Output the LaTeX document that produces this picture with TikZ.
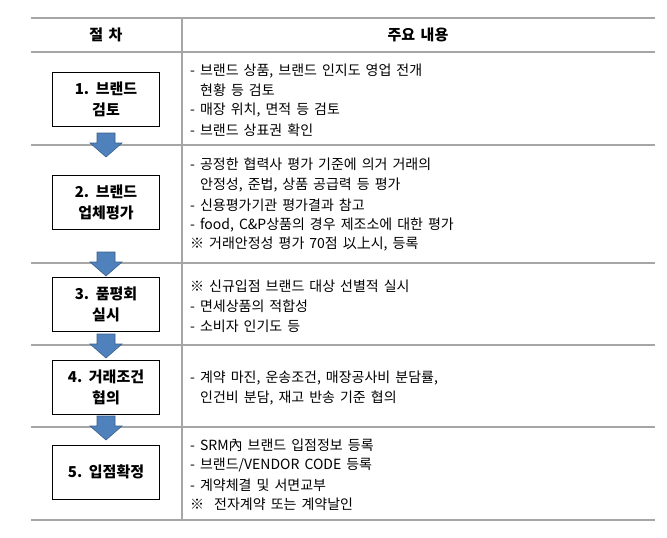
\documentclass[tikz,border=0pt]{standalone}
\usepackage{fontspec}
\setmainfont[WordSpace=1.6]{Noto Sans CJK KR}
\definecolor{arrfill}{HTML}{4F81BD}
\definecolor{arrline}{HTML}{385D8A}
\begin{document}
\begin{tikzpicture}[x=1pt,y=-1pt,
  rule/.style={draw=gray!70,line width=1.2pt},
  stepbox/.style={draw,line width=0.8pt,minimum width=107pt,minimum height=54pt,align=center,font=\fontsize{15}{21}\selectfont\bfseries},
  txt/.style={anchor=west,inner sep=0pt,font=\fontsize{14}{16}\selectfont},
  barrow/.style={fill=arrfill,draw=arrline,line width=0.6pt}]
\useasboundingbox (0,0) rectangle (667,538);
\foreach \y in {18,52,145,263,345,427,520} \draw[rule] (31,\y) -- (655,\y);
\draw[rule] (182,18) -- (182,520);
\node[font=\fontsize{15}{18}\selectfont\bfseries] (h1) at (106,35) {절 차};
\node[font=\fontsize{15}{18}\selectfont\bfseries] (h2) at (418,35) {주요 내용};
\node[stepbox] (b1) at (106,99.5) {1. 브랜드\\ 검토};
\node[stepbox] (b2) at (106,202) {2. 브랜드\\ 업체평가};
\node[stepbox] (b3) at (106,304) {3. 품평회\\ 실시};
\node[stepbox] (b4) at (106,387) {4. 거래조건\\ 협의};
\node[stepbox] (b5) at (106,472) {5. 입점확정};
\foreach \t in {133,252,334,416}
  \filldraw[barrow] (97,\t) -- (115,\t) -- (115,\t+10) -- (122,\t+10) -- (106,\t+24) -- (90,\t+10) -- (97,\t+10) -- cycle;
\node[txt] (t11) at (190,71) {- 브랜드 상품, 브랜드 인지도 영업 전개};
\node[txt] (t12) at (190,90) {\ \ 현황 등 검토};
\node[txt] (t13) at (190,110) {- 매장 위치, 면적 등 검토};
\node[txt] (t14) at (190,130) {- 브랜드 상표권 확인};
\node[txt] (t21) at (190,164) {- 공정한 협력사 평가 기준에 의거 거래의};
\node[txt] (t22) at (190,185) {\ \ 안정성, 준법, 상품 공급력 등 평가};
\node[txt] (t23) at (190,205) {- 신용평가기관 평가결과 참고};
\node[txt] (t24) at (190,225) {- food, C\&P상품의 경우 제조소에 대한 평가};
\node[txt] (t25) at (190,244) {※ 거래안정성 평가 70점 以上시, 등록};
\node[txt] (t31) at (190,286) {※ 신규입점 브랜드 대상 선별적 실시};
\node[txt] (t32) at (190,306) {- 면세상품의 적합성};
\node[txt] (t33) at (190,326) {- 소비자 인기도 등};
\node[txt] (t41) at (190,378) {- 계약 마진, 운송조건, 매장공사비 분담률,};
\node[txt] (t42) at (190,398) {\ \ 인건비 분담, 재고 반송 기준 협의};
\node[txt] (t51) at (190,445) {- SRM內 브랜드 입점정보 등록};
\node[txt] (t52) at (190,465) {- 브랜드/VENDOR CODE 등록};
\node[txt] (t53) at (190,485) {- 계약체결 및 서면교부};
\node[txt] (t54) at (190,504) {※\ \ 전자계약 또는 계약날인};
\end{tikzpicture}
\end{document}
